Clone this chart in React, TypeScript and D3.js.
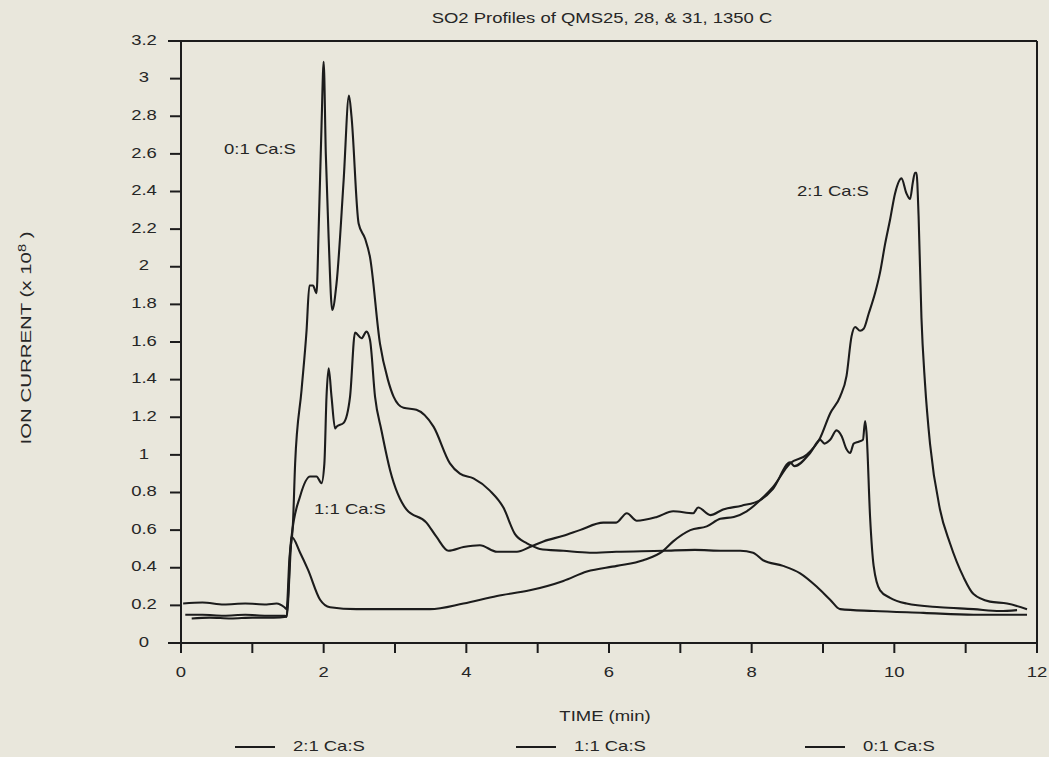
import React from "react";
import * as d3 from "d3";

// time (min) / ion current (x 10^8)
const t01 = [0.03, 0.3, 0.6, 0.9, 1.2, 1.34, 1.45, 1.48, 1.52, 1.57, 1.6, 1.69, 1.76, 1.8, 1.85, 1.9, 1.93, 1.97, 2.0, 2.03, 2.07, 2.12, 2.18, 2.28, 2.355, 2.39, 2.49, 2.58, 2.65, 2.79, 2.9, 2.98, 3.12, 3.3, 3.54, 3.77, 3.91, 4.1, 4.33, 4.52, 4.68, 4.85, 4.93, 5.03, 5.36, 5.73, 6.1, 6.76, 7.2, 7.6, 7.84, 8.02, 8.16, 8.44, 8.68, 8.91, 9.1, 9.24, 9.71, 10.41, 11.11, 11.86];
const v01 = [0.21, 0.215, 0.205, 0.21, 0.205, 0.21, 0.19, 0.18, 0.45, 0.64, 0.955, 1.345, 1.66, 1.9, 1.9, 1.86, 2.2, 2.75, 3.09, 2.6, 2.15, 1.77, 1.91, 2.46, 2.91, 2.8, 2.23, 2.15, 2.05, 1.59, 1.4, 1.31, 1.25, 1.24, 1.15, 0.955, 0.9, 0.875, 0.81, 0.72, 0.58, 0.53, 0.515, 0.5, 0.49, 0.48, 0.485, 0.49, 0.495, 0.49, 0.49, 0.48, 0.44, 0.41, 0.37, 0.3, 0.23, 0.18, 0.17, 0.16, 0.15, 0.15];

const t11 = [0.06, 0.3, 0.6, 0.9, 1.2, 1.46, 1.48, 1.55, 1.67, 1.81, 1.9, 1.97, 2.01, 2.04, 2.07, 2.11, 2.16, 2.18, 2.28, 2.37, 2.44, 2.53, 2.6, 2.65, 2.72, 2.81, 2.93, 3.16, 3.44, 3.58, 3.75, 3.96, 4.19, 4.43, 4.71, 4.89, 5.08, 5.36, 5.59, 5.92, 6.1, 6.25, 6.39, 6.67, 6.9, 7.18, 7.25, 7.42, 7.6, 7.86, 8.12, 8.3, 8.54, 8.6, 8.82, 8.96, 9.02, 9.1, 9.19, 9.26, 9.33, 9.38, 9.43, 9.5, 9.56, 9.59, 9.61, 9.66, 9.71, 9.8, 9.94, 10.17, 10.64, 11.11, 11.48, 11.72];
const v11 = [0.15, 0.15, 0.145, 0.15, 0.145, 0.145, 0.14, 0.565, 0.78, 0.885, 0.885, 0.85, 0.955, 1.31, 1.46, 1.31, 1.14, 1.15, 1.17, 1.31, 1.65, 1.62, 1.655, 1.61, 1.31, 1.13, 0.92, 0.71, 0.64, 0.565, 0.49, 0.51, 0.52, 0.485, 0.485, 0.51, 0.54, 0.57, 0.6, 0.64, 0.64, 0.69, 0.65, 0.67, 0.7, 0.69, 0.72, 0.68, 0.71, 0.73, 0.76, 0.82, 0.96, 0.94, 1.01, 1.08, 1.06, 1.08, 1.13, 1.1, 1.03, 1.01, 1.06, 1.07, 1.08, 1.18, 1.12, 0.67, 0.41, 0.28, 0.24, 0.21, 0.19, 0.18, 0.17, 0.175];

const t21 = [0.15, 0.4, 0.7, 1.0, 1.3, 1.48, 1.55, 1.67, 1.78, 1.95, 2.09, 2.46, 3.0, 3.49, 3.96, 4.43, 4.89, 5.36, 5.69, 6.11, 6.48, 6.76, 6.9, 7.14, 7.37, 7.56, 7.75, 7.93, 8.12, 8.3, 8.54, 8.77, 8.96, 9.1, 9.24, 9.33, 9.4, 9.45, 9.52, 9.57, 9.64, 9.73, 9.8, 9.87, 9.94, 10.01, 10.1, 10.17, 10.22, 10.26, 10.29, 10.31, 10.34, 10.38, 10.43, 10.5, 10.64, 10.78, 10.97, 11.11, 11.34, 11.58, 11.86];
const v21 = [0.13, 0.135, 0.13, 0.135, 0.135, 0.14, 0.565, 0.48, 0.39, 0.23, 0.19, 0.18, 0.18, 0.18, 0.21, 0.25, 0.28, 0.33, 0.38, 0.41, 0.44, 0.49, 0.54, 0.6, 0.62, 0.66, 0.67, 0.7, 0.76, 0.83, 0.955, 1.0, 1.09, 1.22, 1.31, 1.42, 1.63, 1.68, 1.66, 1.67, 1.75, 1.86, 1.97, 2.12, 2.25, 2.39, 2.47, 2.39, 2.36, 2.45, 2.5, 2.5, 2.27, 1.73, 1.38, 1.06, 0.71, 0.53, 0.35, 0.26, 0.22, 0.21, 0.18];

const seriesNames = ["2:1 Ca:S", "1:1 Ca:S", "0:1 Ca:S"];
const yTicks = [0, 0.2, 0.4, 0.6, 0.8, 1, 1.2, 1.4, 1.6, 1.8, 2, 2.2, 2.4, 2.6, 2.8, 3, 3.2];
const xTicks = [0, 1, 2, 3, 4, 5, 6, 7, 8, 9, 10, 11, 12];
const xLabels = [0, 2, 4, 6, 8, 10, 12];

const W = 1049;
const H = 757;
const BG = "#e9e7dc";
const INK = "#1c1c1c";
const FONT = "'Liberation Sans', Arial, sans-serif";
const SX = 1.32; // scanned lettering is wide

function Label({ x, y, anchor = "middle", size = 14, children }: any) {
  return (
    <text
      transform={`translate(${x},${y}) scale(${SX},1)`}
      textAnchor={anchor}
      dominantBaseline="middle"
      fontSize={size}
      fontFamily={FONT}
      fill="#262626"
    >
      {children}
    </text>
  );
}

export default function App() {
  const x = d3.scaleLinear().domain([0, 12]).range([181, 1037]);
  const y = d3.scaleLinear().domain([0, 3.2]).range([643, 41]);

  const line = d3
    .line<[number, number]>()
    .x((d) => x(d[0]))
    .y((d) => y(d[1]))
    .curve(d3.curveMonotoneX);

  const series = [
    { t: t21, v: v21 },
    { t: t11, v: v11 },
    { t: t01, v: v01 },
  ];

  const legendX = [235, 516, 805];

  return (
    <svg
      width={W}
      height={H}
      style={{ position: "absolute", left: 0, top: 0, background: BG }}
    >
      <rect width={W} height={H} fill={BG} />

      <Label x={602} y={19}>SO2 Profiles of QMS25, 28, &amp; 31, 1350 C</Label>

      {/* frame */}
      <g stroke={INK} strokeWidth={2} fill="none">
        <line x1={168} x2={x(12)} y1={y(3.2)} y2={y(3.2)} />
        <line x1={x(12)} x2={x(12)} y1={y(3.2)} y2={y(0) + 10} />
        <line x1={x(0)} x2={x(0)} y1={y(3.2)} y2={y(0)} />
        <line x1={168} x2={x(12)} y1={y(0)} y2={y(0)} />
        {yTicks.map((d) => (
          <line key={"yt" + d} x1={170} x2={x(0)} y1={y(d)} y2={y(d)} />
        ))}
        {xTicks.map((d) => (
          <line key={"xt" + d} x1={x(d)} x2={x(d)} y1={y(0)} y2={y(0) + 10} />
        ))}
      </g>

      {yTicks.map((d) => (
        <Label key={"yl" + d} x={144} y={y(d)}>
          {String(d)}
        </Label>
      ))}
      {xLabels.map((d) => (
        <Label key={"xl" + d} x={x(d)} y={673}>
          {String(d)}
        </Label>
      ))}

      <Label x={605} y={717}>TIME (min)</Label>

      <text
        transform={`translate(31,338) rotate(-90) scale(1.46,1)`}
        textAnchor="middle"
        fontSize={14}
        fontFamily={FONT}
        fill="#262626"
      >
        ION CURRENT (x 10
        <tspan dy={-5} fontSize={10}>8</tspan>
        <tspan dy={5}> )</tspan>
      </text>

      {/* curves */}
      <g fill="none" stroke={INK} strokeWidth={2.1} strokeLinejoin="round">
        {series.map((s, i) => (
          <path
            key={i}
            d={line(s.t.map((tt, j) => [tt, s.v[j]] as [number, number])) || ""}
          />
        ))}
      </g>

      <Label x={260} y={150}>0:1 Ca:S</Label>
      <Label x={350} y={510}>1:1 Ca:S</Label>
      <Label x={833} y={192}>2:1 Ca:S</Label>

      {/* legend */}
      {seriesNames.map((name, i) => (
        <g key={name}>
          <line
            x1={legendX[i]}
            x2={legendX[i] + 40}
            y1={747}
            y2={747}
            stroke={INK}
            strokeWidth={2}
          />
          <Label x={legendX[i] + 58} y={747} anchor="start">
            {name}
          </Label>
        </g>
      ))}
    </svg>
  );
}
